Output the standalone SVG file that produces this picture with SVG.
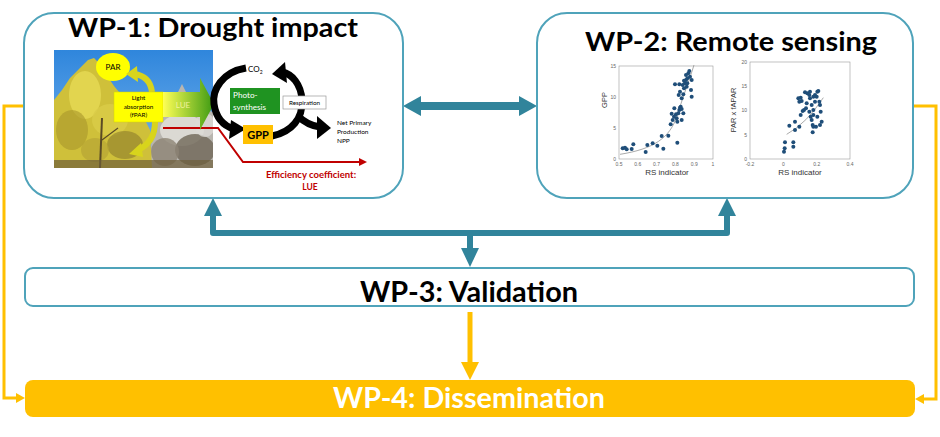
<svg xmlns="http://www.w3.org/2000/svg" width="940" height="437" viewBox="0 0 940 437">
<style>
.box{fill:#fff;stroke:#4FA3BA;stroke-width:2}
.title{font-family:Lato,"Liberation Sans",sans-serif;font-weight:bold;fill:#000}
.sm{font-family:Lato,"Liberation Sans",sans-serif}
.teal{stroke:#31849B;fill:none}
.tealf{fill:#31849B}
.yel{stroke:#FFC000;fill:none}
.yelf{fill:#FFC000}
.blk{stroke:#000;fill:none;stroke-width:7}
.tick{font-family:"Liberation Sans",sans-serif;font-size:5px;fill:#666}
.ax{font-family:"Liberation Sans",sans-serif;fill:#333}
.pt{fill:#1F4E79}
</style>
<defs>
<linearGradient id="sky" x1="0" y1="0" x2="0" y2="1">
<stop offset="0" stop-color="#2f86dc"/>
<stop offset="1" stop-color="#79b4ee"/>
</linearGradient>
<linearGradient id="lue" x1="0" y1="0" x2="1" y2="0">
<stop offset="0" stop-color="#ffff55"/>
<stop offset="1" stop-color="#3c9a12"/>
</linearGradient>
<clipPath id="photoClip"><rect x="54" y="50" width="159" height="118"/></clipPath>
</defs>

<g id="connectors">
<line x1="418" y1="106" x2="521" y2="106" class="teal" stroke-width="8"/>
<polygon class="tealf" points="403,106 421,96 421,116"/>
<polygon class="tealf" points="537,106 519,96 519,116"/>
<polyline points="213,215 213,233 727,233 727,215" class="teal" stroke-width="6" stroke-linejoin="round"/>
<polygon class="tealf" points="213,198 222,216 204,216"/>
<polygon class="tealf" points="727,198 736,216 718,216"/>
<line x1="470" y1="233" x2="470" y2="250" class="teal" stroke-width="6"/>
<polygon class="tealf" points="461,248 479,248 470,267"/>
<line x1="470" y1="312" x2="470" y2="364" class="yel" stroke-width="5"/>
<polygon class="yelf" points="461,362 479,362 470,380"/>
<polyline points="24,106 4,106 4,398 17,398" class="yel" stroke-width="3"/>
<polygon class="yelf" points="25,398 16,393 16,403"/>
<polyline points="913,106 936,106 936,399 923,399" class="yel" stroke-width="3"/>
<polygon class="yelf" points="915,399 924,394 924,404"/>
</g>

<g id="wp1">
<rect x="24" y="13" width="379" height="185" rx="30" class="box"/>
<text x="213" y="37" text-anchor="middle" class="title" font-size="27" textLength="290" lengthAdjust="spacingAndGlyphs">WP-1: Drought impact</text>
<g clip-path="url(#photoClip)">
<rect x="54" y="50" width="159" height="118" fill="url(#sky)"/>
<!-- white tree right -->
<polygon points="150,168 152,130 160,118 170,112 176,96 182,84 188,96 196,104 206,110 213,112 213,168" fill="#b9b6b0"/>
<ellipse cx="182" cy="130" rx="22" ry="16" fill="#e4e2dc" opacity="0.8"/>
<ellipse cx="195" cy="150" rx="20" ry="16" fill="#6f6658" opacity="0.8"/>
<ellipse cx="165" cy="152" rx="14" ry="14" fill="#8d8576" opacity="0.8"/>
<ellipse cx="205" cy="125" rx="10" ry="12" fill="#dcdad6" opacity="0.8"/>
<!-- larch -->
<polygon points="54,100 62,90 70,78 80,68 88,60 94,58 100,64 106,74 114,86 124,98 134,108 144,118 150,130 152,168 54,168" fill="#cfc03a"/>
<ellipse cx="85" cy="95" rx="16" ry="24" fill="#e6da55" opacity="0.8"/>
<ellipse cx="110" cy="120" rx="18" ry="16" fill="#d9cc48" opacity="0.8"/>
<ellipse cx="72" cy="130" rx="16" ry="20" fill="#a8962c" opacity="0.6"/>
<ellipse cx="125" cy="145" rx="18" ry="14" fill="#8c7c2c" opacity="0.6"/>
<ellipse cx="95" cy="150" rx="14" ry="12" fill="#b7a535" opacity="0.7"/>
<line x1="100" y1="168" x2="102" y2="118" stroke="#5a4a25" stroke-width="2"/>
<line x1="102" y1="140" x2="118" y2="128" stroke="#5a4a25" stroke-width="1.2"/>
<rect x="54" y="160" width="159" height="8" fill="#6d5e3a" opacity="0.7"/>
</g>
<ellipse cx="113" cy="67" rx="17" ry="14" fill="#ffff00"/>
<text x="113" y="70" text-anchor="middle" class="sm" font-size="8">PAR</text>
<!-- curved arrows -->
<path d="M152,92 Q150,76 134,74" stroke="#d8d41c" stroke-width="6" fill="none"/>
<polygon points="126,74 137,66 138,82" fill="#d8d41c"/>
<path d="M155,122 Q155,142 138,150" stroke="#d8d41c" stroke-width="6" fill="none"/>
<polygon points="141,143 143,157 129,154" fill="#d8d41c"/>
<rect x="114" y="92" width="49" height="30" fill="#ffff00" stroke="#d6d600" stroke-width="0.5"/>
<text x="138.5" y="100" text-anchor="middle" class="sm" font-size="6.3">Light</text>
<text x="138.5" y="108.5" text-anchor="middle" class="sm" font-size="6.3">absorption</text>
<text x="138.5" y="117" text-anchor="middle" class="sm" font-size="6.3">(fPAR)</text>
<polyline points="163,128 218,128 243,162 360,162" fill="none" stroke="#C00000" stroke-width="2"/>
<polygon points="367,162 359,158 359,166" fill="#C00000"/>
<polygon points="163,92 200,92 200,78 214,104 200,130 200,117 163,117" fill="url(#lue)"/>
<text x="183" y="108" text-anchor="middle" class="sm" font-size="8" fill="#f2f29a">LUE</text>
<path d="M246,68 C222,72 212,90 214,104 C216,118 224,126 234,129" class="blk"/>
<polygon points="246,129 231,120 229,139"/>
<path d="M272,136 C292,132 303,118 302,100 C301,84 292,74 282,72" class="blk"/>
<polygon points="272,74 285,62 287,83"/>
<path d="M298,116 C304,122 312,126 320,127" class="blk" stroke-width="5"/>
<polygon points="331,128 317,116 317,139"/>
<text x="248" y="72" class="sm" font-size="8">CO<tspan font-size="5" dy="2">2</tspan></text>
<rect x="230" y="88" width="50" height="26" fill="#1f9321"/>
<text x="233" y="98" class="sm" font-size="8.2" fill="#fff">Photo-</text>
<text x="233" y="110" class="sm" font-size="8.2" fill="#fff">synthesis</text>
<rect x="283" y="96" width="43" height="13" fill="#fff" stroke="#999" stroke-width="0.7"/>
<text x="304.5" y="105" text-anchor="middle" class="sm" font-size="6.3">Respiration</text>
<rect x="243" y="125" width="30" height="19" fill="#FFC000"/>
<text x="258" y="139" text-anchor="middle" class="sm" font-size="11" font-weight="bold">GPP</text>
<text x="337" y="125" class="sm" font-size="6.5">Net Primary</text>
<text x="337" y="134" class="sm" font-size="6.5">Production</text>
<text x="337" y="143" class="sm" font-size="6.5">NPP</text>
<text x="311" y="178" text-anchor="middle" class="sm" font-size="9.5" font-weight="bold" fill="#C00000">Efficiency coefficient:</text>
<text x="310" y="190" text-anchor="middle" class="sm" font-size="8.5" font-weight="bold" fill="#C00000">LUE</text>
</g>

<g id="wp2">
<rect x="537" y="13" width="376" height="185" rx="30" class="box"/>
<text x="731" y="51" text-anchor="middle" class="title" font-size="27" textLength="292" lengthAdjust="spacingAndGlyphs">WP-2: Remote sensing</text>
<rect x="619" y="66" width="94" height="93" fill="#fff" stroke="#999" stroke-width="0.6"/>
<g class="tick" text-anchor="middle">
<text x="619" y="166">0.5</text><text x="637.8" y="166">0.6</text><text x="656.6" y="166">0.7</text><text x="675.4" y="166">0.8</text><text x="694.2" y="166">0.9</text><text x="713" y="166">1</text>
</g>
<g class="tick" text-anchor="end">
<text x="616" y="161">0</text><text x="616" y="130">5</text><text x="616" y="99">10</text><text x="616" y="68">15</text>
</g>
<text class="ax" font-size="7.5" text-anchor="middle" transform="translate(607,100) rotate(-90)">GPP</text>
<text x="667" y="175" class="ax" font-size="8" text-anchor="middle">RS indicator</text>
<rect x="750" y="62" width="100" height="97" fill="#fff" stroke="#999" stroke-width="0.6"/>
<g class="tick" text-anchor="middle">
<text x="750" y="166">-0.2</text><text x="783.3" y="166">0</text><text x="816.7" y="166">0.2</text><text x="850" y="166">0.4</text>
</g>
<g class="tick" text-anchor="end">
<text x="747" y="161">0</text><text x="747" y="136.5">5</text><text x="747" y="112">10</text><text x="747" y="88">15</text><text x="747" y="64">20</text>
</g>
<text class="ax" font-size="7.5" text-anchor="middle" transform="translate(736,110) rotate(-90)">PAR x fAPAR</text>
<text x="800" y="175" class="ax" font-size="8" text-anchor="middle">RS indicator</text>
<g transform="translate(580,55) scale(0.33333)">
<path d="M120,298 C220,282 270,250 292,180 S330,70 342,30" fill="none" stroke="#999" stroke-width="2.5"/>
<path d="M620,238 Q680,205 730,128" fill="none" stroke="#999" stroke-width="2.5"/>
<g class="pt">
<circle cx="128" cy="280" r="6"/><circle cx="135" cy="278" r="6"/><circle cx="140" cy="283" r="6"/><circle cx="155" cy="282" r="6"/><circle cx="160" cy="268" r="6"/><circle cx="197" cy="291" r="6"/><circle cx="202" cy="270" r="6"/><circle cx="218" cy="265" r="6"/><circle cx="232" cy="272" r="6"/><circle cx="245" cy="243" r="6"/><circle cx="250" cy="281" r="6"/><circle cx="265" cy="242" r="6"/><circle cx="292" cy="263" r="6"/><circle cx="272" cy="208" r="6"/><circle cx="278" cy="195" r="6"/><circle cx="282" cy="185" r="6"/><circle cx="288" cy="178" r="6"/><circle cx="290" cy="190" r="6"/><circle cx="292" cy="200" r="6"/><circle cx="295" cy="175" r="6"/><circle cx="298" cy="165" r="6"/><circle cx="300" cy="158" r="6"/><circle cx="302" cy="155" r="6"/><circle cx="305" cy="162" r="6"/><circle cx="283" cy="160" r="6"/><circle cx="275" cy="176" r="6"/><circle cx="285" cy="88" r="6"/><circle cx="298" cy="88" r="6"/><circle cx="305" cy="130" r="6"/><circle cx="310" cy="118" r="6"/><circle cx="312" cy="100" r="6"/><circle cx="315" cy="85" r="6"/><circle cx="318" cy="75" r="6"/><circle cx="320" cy="95" r="6"/><circle cx="322" cy="70" r="6"/><circle cx="325" cy="55" r="6"/><circle cx="328" cy="48" r="6"/><circle cx="330" cy="65" r="6"/><circle cx="335" cy="75" r="6"/><circle cx="333" cy="105" r="6"/><circle cx="335" cy="125" r="6"/><circle cx="312" cy="77" r="6"/><circle cx="308" cy="90" r="6"/><circle cx="300" cy="110" r="6"/><circle cx="296" cy="120" r="6"/><circle cx="322" cy="85" r="6"/><circle cx="318" cy="60" r="6"/><circle cx="310" cy="175" r="6"/><circle cx="305" cy="195" r="6"/>
<circle cx="612" cy="290" r="6"/><circle cx="614" cy="280" r="6"/><circle cx="615" cy="262" r="6"/><circle cx="640" cy="275" r="6"/><circle cx="640" cy="262" r="6"/><circle cx="628" cy="212" r="6"/><circle cx="645" cy="225" r="6"/><circle cx="645" cy="200" r="6"/><circle cx="658" cy="215" r="6"/><circle cx="662" cy="180" r="6"/><circle cx="668" cy="168" r="6"/><circle cx="655" cy="130" r="6"/><circle cx="662" cy="128" r="6"/><circle cx="665" cy="138" r="6"/><circle cx="658" cy="140" r="6"/><circle cx="672" cy="165" r="6"/><circle cx="678" cy="160" r="6"/><circle cx="680" cy="145" r="6"/><circle cx="675" cy="112" r="6"/><circle cx="682" cy="115" r="6"/><circle cx="688" cy="120" r="6"/><circle cx="690" cy="130" r="6"/><circle cx="695" cy="150" r="6"/><circle cx="700" cy="165" r="6"/><circle cx="700" cy="180" r="6"/><circle cx="692" cy="185" r="6"/><circle cx="695" cy="195" r="6"/><circle cx="698" cy="210" r="6"/><circle cx="700" cy="215" r="6"/><circle cx="708" cy="215" r="6"/><circle cx="698" cy="232" r="6"/><circle cx="705" cy="140" r="6"/><circle cx="710" cy="125" r="6"/><circle cx="712" cy="110" r="6"/><circle cx="715" cy="108" r="6"/><circle cx="718" cy="140" r="6"/><circle cx="720" cy="150" r="6"/><circle cx="722" cy="170" r="6"/><circle cx="725" cy="200" r="6"/><circle cx="712" cy="185" r="6"/><circle cx="720" cy="210" r="6"/><circle cx="705" cy="120" r="6"/><circle cx="688" cy="170" r="6"/><circle cx="700" cy="125" r="6"/><circle cx="690" cy="110" r="6"/>
</g>
</g>
</g>

<g id="wp3">
<rect x="25" y="268" width="889" height="38" rx="8" class="box"/>
<text x="469" y="302" text-anchor="middle" class="title" font-size="29" textLength="218" lengthAdjust="spacingAndGlyphs">WP-3: Validation</text>
</g>

<g id="wp4">
<rect x="25" y="380" width="890" height="37" rx="8" fill="#FFC000"/>
<text x="469" y="408" text-anchor="middle" class="title" font-size="28" style="fill:#fff" textLength="272" lengthAdjust="spacingAndGlyphs">WP-4: Dissemination</text>
</g>
</svg>
